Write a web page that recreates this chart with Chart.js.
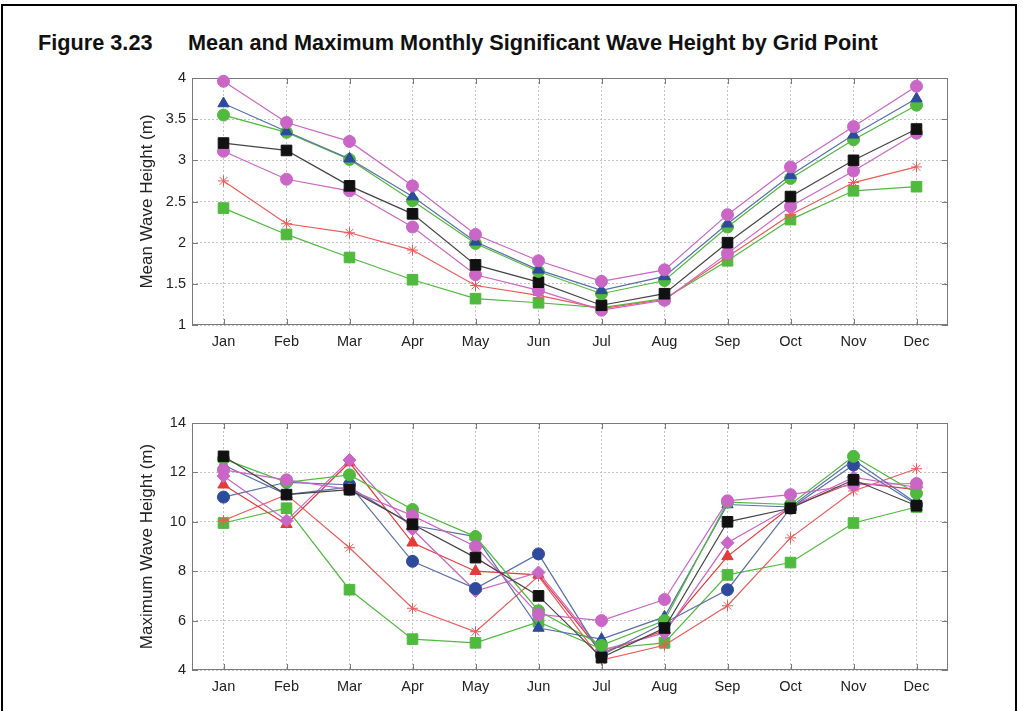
<!DOCTYPE html>
<html>
<head>
<meta charset="utf-8">
<title>Figure 3.23</title>
<script src="https://cdn.jsdelivr.net/npm/chart.js@4.4.1/dist/chart.umd.min.js"></script>
<style>
  html, body { margin: 0; padding: 0; background: #fff; }
  body { width: 1023px; height: 711px; position: relative; overflow: hidden;
         font-family: "Liberation Sans", Arial, sans-serif; }
  .frame { position: absolute; left: 1px; top: 4px; width: 1016px; height: 760px;
           border: 2px solid #000; border-bottom: none; box-sizing: border-box; }
  .title { position: absolute; top: 30px; font-weight: bold; font-size: 21.7px; color: #111; white-space: nowrap; }
  .plot { position: absolute; left: 0; }
  canvas { display: block; }
</style>
</head>
<body>
<div class="frame"></div>
<div class="title" style="left:38px">Figure 3.23</div>
<div class="title" style="left:188px">Mean and Maximum Monthly Significant Wave Height by Grid Point</div>
<div class="plot" style="top:60px"><canvas id="chart-mean" width="1023" height="300"></canvas></div>
<div class="plot" style="top:405px"><canvas id="chart-max" width="1023" height="300"></canvas></div>

<script>
// Month labels
const months = ['Jan', 'Feb', 'Mar', 'Apr', 'May', 'Jun', 'Jul', 'Aug', 'Sep', 'Oct', 'Nov', 'Dec'];

// Mean wave height (m), one array per grid point
const meanMagentaA = [3.96, 3.46, 3.23, 2.69, 2.10, 1.78, 1.53, 1.67, 2.34, 2.92, 3.41, 3.90];
const meanBlueTri  = [3.69, 3.35, 3.02, 2.56, 2.01, 1.67, 1.42, 1.59, 2.23, 2.82, 3.31, 3.75];
const meanGreenCir = [3.55, 3.34, 3.01, 2.51, 1.99, 1.65, 1.38, 1.54, 2.19, 2.78, 3.25, 3.67];
const meanBlackSq  = [3.21, 3.12, 2.69, 2.35, 1.73, 1.52, 1.24, 1.38, 2.00, 2.56, 3.00, 3.38];
const meanMagentaB = [3.11, 2.77, 2.63, 2.19, 1.61, 1.42, 1.18, 1.30, 1.87, 2.44, 2.87, 3.33];
const meanRedStar  = [2.75, 2.23, 2.12, 1.91, 1.48, 1.36, 1.20, 1.31, 1.83, 2.34, 2.73, 2.92];
const meanGreenSq  = [2.42, 2.10, 1.82, 1.55, 1.32, 1.27, 1.21, 1.32, 1.78, 2.28, 2.63, 2.68];

// Maximum wave height (m)
const maxBlackSq    = [12.65, 11.1, 11.3, 9.9, 8.55, 7.0, 4.5, 5.7, 10.0, 10.55, 11.7, 10.65];
const maxGreenCir   = [12.55, 11.6, 11.9, 10.5, 9.4, 6.4, 5.0, 6.0, 10.8, 10.7, 12.65, 11.15];
const maxBlueTri    = [12.3, 11.1, 11.4, 9.85, 9.4, 5.7, 5.25, 6.15, 10.7, 10.6, 12.5, 10.75];
const maxBlueCir    = [11.0, 11.6, 11.5, 8.4, 7.3, 8.7, 4.6, 5.9, 7.25, 10.55, 12.3, 10.7];
const maxMagentaCir = [12.1, 11.7, 11.3, 10.25, 9.0, 6.25, 6.0, 6.85, 10.85, 11.1, 11.5, 11.55];
const maxMagentaDia = [11.85, 10.05, 12.5, 9.7, 7.2, 7.95, 4.8, 5.5, 9.15, 10.6, 11.8, 11.4];
const maxRedTri     = [11.5, 9.9, 12.4, 9.15, 8.0, 7.85, 4.7, 5.6, 8.6, 10.6, 11.6, 11.3];
const maxRedStar    = [10.05, 11.1, 8.95, 6.5, 5.55, 7.8, 4.4, 5.0, 6.6, 9.35, 11.25, 12.15];
const maxGreenSq    = [9.95, 10.55, 7.25, 5.25, 5.1, 5.95, 4.85, 5.1, 7.85, 8.35, 9.95, 10.6];

// Axis ranges
const meanRange = { min: 1, max: 4, step: 0.5 };
const maxRange = { min: 4, max: 14, step: 2 };

// Colors
const MAGENTA = '#c966c6';
const BLUE = '#2d4a9c';
const GREEN = '#4fba3e';
const BLACK = '#111111';
const RED = '#e33a3a';
const STAR_RED = '#ee5a5a';
const FONT = '"Liberation Sans", Arial, sans-serif';

function series(data, color, style, radius, lineColor) {
  return {
    data: data,
    borderColor: lineColor || color,
    borderWidth: 1.2,
    pointStyle: style,
    pointRadius: radius,
    pointBackgroundColor: color,
    pointBorderColor: color,
    pointBorderWidth: 1,
    tension: 0,
    fill: false,
    clip: false
  };
}

// MATLAB-like box with inward tick marks
const boxPlugin = {
  id: 'matlabBox',
  beforeDatasetsDraw(chart) {
    const { ctx, chartArea: a, scales } = chart;
    ctx.save();
    ctx.strokeStyle = '#7a7a7a';
    ctx.lineWidth = 1;
    ctx.strokeRect(a.left + 0.5, a.top + 0.5, a.right - a.left - 1, a.bottom - a.top - 1);
    ctx.beginPath();
    scales.x.ticks.forEach((t, i) => {
      const px = Math.round(scales.x.getPixelForTick(i)) + 0.5;
      ctx.moveTo(px, a.bottom); ctx.lineTo(px, a.bottom - 6);
      ctx.moveTo(px, a.top); ctx.lineTo(px, a.top + 6);
    });
    scales.y.ticks.forEach((t, i) => {
      const py = Math.round(scales.y.getPixelForTick(i)) + 0.5;
      ctx.moveTo(a.left, py); ctx.lineTo(a.left + 6, py);
      ctx.moveTo(a.right, py); ctx.lineTo(a.right - 6, py);
    });
    ctx.stroke();
    ctx.restore();
  }
};

function makeChart(id, datasets, range, yTitle) {
  return new Chart(document.getElementById(id).getContext('2d'), {
    type: 'line',
    data: { labels: months, datasets: datasets },
    options: {
      responsive: false,
      animation: false,
      devicePixelRatio: 1,
      layout: { padding: { left: 137, right: 75, top: 18, bottom: 0 } },
      plugins: { legend: { display: false }, tooltip: { enabled: false } },
      scales: {
        x: {
          type: 'category',
          offset: true,
          afterFit: (s) => { s.height = 35; },
          grid: { offset: false, color: '#c4c4c4', lineWidth: 1, drawTicks: false },
          border: { display: false, dash: [2, 2] },
          ticks: { color: '#222', font: { family: FONT, size: 14.5 }, padding: 8, maxRotation: 0, autoSkip: false }
        },
        y: {
          min: range.min,
          max: range.max,
          afterFit: (s) => { s.width = 55; },
          grid: { color: '#c4c4c4', lineWidth: 1, drawTicks: false },
          border: { display: false, dash: [2, 2] },
          ticks: { stepSize: range.step, color: '#222', font: { family: FONT, size: 14.5 }, padding: 6,
                   callback: (v) => String(v) },
          title: { display: true, text: yTitle, color: '#222', font: { family: FONT, size: 17 }, padding: { top: 0, bottom: 0 } }
        }
      }
    },
    plugins: [boxPlugin]
  });
}

// First dataset is drawn on top
makeChart('chart-mean', [
  series(meanMagentaA, MAGENTA, 'circle', 6),
  series(meanBlueTri, BLUE, 'triangle', 6.5, '#5a6fa8'),
  series(meanGreenCir, GREEN, 'circle', 6),
  series(meanBlackSq, BLACK, 'rect', 7.5, '#444'),
  series(meanMagentaB, MAGENTA, 'circle', 6),
  series(meanRedStar, STAR_RED, 'star', 5.5),
  series(meanGreenSq, GREEN, 'rect', 7.5)
], meanRange, 'Mean Wave Height (m)');

makeChart('chart-max', [
  series(maxBlackSq, BLACK, 'rect', 7.5, '#444'),
  series(maxMagentaCir, MAGENTA, 'circle', 6),
  series(maxGreenCir, GREEN, 'circle', 6),
  series(maxBlueTri, BLUE, 'triangle', 6.5, '#5a6fa8'),
  series(maxBlueCir, BLUE, 'circle', 6, '#5a6fa8'),
  series(maxMagentaDia, MAGENTA, 'rectRot', 6.5),
  series(maxRedTri, RED, 'triangle', 6.5),
  series(maxRedStar, STAR_RED, 'star', 5.5),
  series(maxGreenSq, GREEN, 'rect', 7.5)
], maxRange, 'Maximum Wave Height (m)');
</script>
</body>
</html>
